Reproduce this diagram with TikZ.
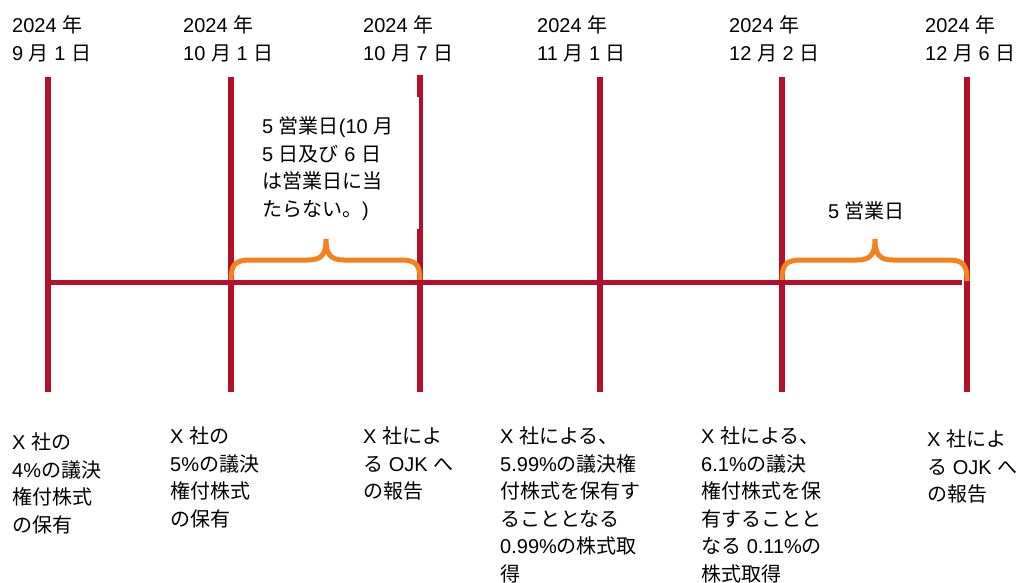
\documentclass[tikz,border=0pt]{standalone}
\usepackage{fontspec}
\setmainfont{Liberation Sans}
\newfontfamily\cjkf{Noto Sans CJK JP}
\newcommand\jp[1]{{\cjkf #1}}
\definecolor{tlred}{HTML}{B2112B}
\definecolor{brorange}{HTML}{F5821F}
\begin{document}
\begin{tikzpicture}[x=1pt,y=-1pt,
  lbl/.style={anchor=north west, inner sep=0pt, align=left, font=\fontsize{20}{27.5}\selectfont},
  tick/.style={draw=tlred, line width=5.5pt},
  axis/.style={draw=tlred, line width=5.5pt},
  brace/.style={draw=brorange, line width=5pt}]
\useasboundingbox (0,0) rectangle (1018,583);
% tick marks
\coordinate (t1) at (48,77);   \coordinate (b1) at (48,392);
\coordinate (t2) at (231,77);  \coordinate (b2) at (231,392);
\coordinate (t3) at (420,75);  \coordinate (b3) at (420,392);
\coordinate (t4) at (600,77);  \coordinate (b4) at (600,392);
\coordinate (t5) at (782,77);  \coordinate (b5) at (782,392);
\coordinate (t6) at (967,77);  \coordinate (b6) at (967,392);
\draw[tick] (t1) -- (b1);
\draw[tick] (t2) -- (b2);
\draw[tick] (t3) -- (420,97);
\draw[tick, line width=3.5pt] (421,97) -- (421,229);
\draw[tick] (420,229) -- (b3);
\draw[tick] (t4) -- (b4);
\draw[tick] (t5) -- (b5);
\draw[tick] (t6) -- (b6);
% braces
\draw[brace] (231,281) .. controls (231,264) and (235,260) .. (251,260) -- (308,260)
  .. controls (322,260) and (326,254) .. (326,239)
  .. controls (326,254) and (330,260) .. (344,260) -- (400,260)
  .. controls (416,260) and (420,264) .. (420,281);
\draw[brace] (782,281) .. controls (782,264) and (786,260) .. (802,260) -- (857,260)
  .. controls (871,260) and (875,254) .. (875,239)
  .. controls (875,254) and (879,260) .. (893,260) -- (947,260)
  .. controls (963,260) and (967,264) .. (967,281);
% axis
\coordinate (h1) at (48,282.5);
\coordinate (h2) at (962,282.5);
\draw[axis] (h1) -- (h2);
% dates
\node[lbl] (d1) at (12,15.5)  {2024 \jp{年}\\9 \jp{月} 1 \jp{日}};
\node[lbl] (d2) at (183,15.5) {2024 \jp{年}\\10 \jp{月} 1 \jp{日}};
\node[lbl] (d3) at (363,15.5) {2024 \jp{年}\\10 \jp{月} 7 \jp{日}};
\node[lbl] (d4) at (537,15.5) {2024 \jp{年}\\11 \jp{月} 1 \jp{日}};
\node[lbl] (d5) at (729,15.5) {2024 \jp{年}\\12 \jp{月} 2 \jp{日}};
\node[lbl] (d6) at (925,15.5) {2024 \jp{年}\\12 \jp{月} 6 \jp{日}};
% brace labels
\node[lbl] (n1) at (262,116.5) {5 \jp{営業日}(10 \jp{月}\\5 \jp{日及び} 6 \jp{日}\\\jp{は営業日に当}\\\jp{たらない。})};
\node[lbl] (n2) at (828,201.5) {5 \jp{営業日}};
% events
\node[lbl] (e1) at (12,432.5)  {X \jp{社の}\\4\%\jp{の議決}\\\jp{権付株式}\\\jp{の保有}};
\node[lbl] (e2) at (170,426.5) {X \jp{社の}\\5\%\jp{の議決}\\\jp{権付株式}\\\jp{の保有}};
\node[lbl] (e3) at (363,426.5) {X \jp{社によ}\\\jp{る} OJK \jp{へ}\\\jp{の報告}};
\node[lbl] (e4) at (500,426.5) {X \jp{社による、}\\5.99\%\jp{の議決権}\\\jp{付株式を保有す}\\\jp{ることとなる}\\0.99\%\jp{の株式取}\\\jp{得}};
\node[lbl] (e5) at (701,426.5) {X \jp{社による、}\\6.1\%\jp{の議決}\\\jp{権付株式を保}\\\jp{有することと}\\\jp{なる} 0.11\%\jp{の}\\\jp{株式取得}};
\node[lbl] (e6) at (927,429.5) {X \jp{社によ}\\\jp{る} OJK \jp{へ}\\\jp{の報告}};
\end{tikzpicture}
\end{document}
